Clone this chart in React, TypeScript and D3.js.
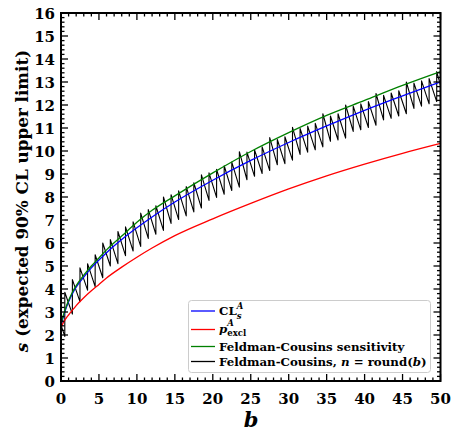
import React from "react";
import * as d3 from "d3";

const W = 452;
const H = 433;

// smooth curves sampled on a b grid
const bGrid = [0, 0.25, 0.5, 0.75, 1, 1.5, 2, 3, 4, 5, 6, 8, 10, 12, 15, 20, 25, 30, 35, 40, 45, 50];
const clsA = [2.3, 2.72, 3.0, 3.24, 3.45, 3.8, 4.08, 4.52, 4.92, 5.26, 5.58, 6.15, 6.66, 7.13, 7.78, 8.73, 9.59, 10.37, 11.09, 11.77, 12.4, 13.01];
const pExcl = [2.3, 2.5, 2.65, 2.77, 2.87, 3.08, 3.28, 3.62, 3.92, 4.2, 4.48, 4.95, 5.38, 5.78, 6.32, 7.05, 7.72, 8.35, 8.92, 9.43, 9.9, 10.33];
const fcSens = [2.44, 2.8, 3.05, 3.3, 3.5, 3.86, 4.15, 4.6, 5.0, 5.35, 5.7, 6.3, 6.9, 7.42, 8.05, 9.05, 9.98, 10.8, 11.55, 12.2, 12.85, 13.45];

// Feldman-Cousins with n = round(b): value at start (b = n-0.5) and end (b = n+0.5) of each tooth n = 0..50
const fcPeak = [2.44, 3.86, 4.41, 4.92, 5.1, 5.49, 6.0, 6.15, 6.5, 6.7, 6.92, 7.3, 7.45, 7.62, 8.0, 8.1, 8.27, 8.45, 8.62, 8.96, 9.05, 9.2, 9.36, 9.52, 9.97, 9.95, 10.05, 10.18, 10.58, 10.5, 10.62, 11.03, 10.98, 11.08, 11.2, 11.62, 11.52, 11.62, 12.0, 11.95, 12.05, 12.15, 12.5, 12.42, 12.52, 12.62, 13.0, 12.95, 13.05, 13.15, 13.45];
const fcTrough = [1.94, 2.91, 3.45, 3.95, 4.1, 4.49, 5.0, 5.1, 5.45, 5.65, 5.85, 6.2, 6.38, 6.55, 6.85, 7.02, 7.18, 7.35, 7.52, 7.85, 7.98, 8.12, 8.28, 8.43, 8.75, 8.9, 9.02, 9.15, 9.4, 9.45, 9.6, 9.85, 9.95, 10.05, 10.18, 10.42, 10.48, 10.56, 10.85, 10.92, 11.02, 11.12, 11.35, 11.42, 11.52, 11.62, 11.85, 11.95, 12.05, 12.15, 12.85];

const xTicks = [0, 5, 10, 15, 20, 25, 30, 35, 40, 45, 50];
const yTicks = [0, 1, 2, 3, 4, 5, 6, 7, 8, 9, 10, 11, 12, 13, 14, 15, 16];

const FONT = "'DejaVu Serif', serif";

export default function App() {
  const x = d3.scaleLinear().domain([0, 50]).range([61, 440.5]);
  const y = d3.scaleLinear().domain([0, 16]).range([381, 13]);
  const [x0, x1] = x.range();
  const [y0, y1] = y.range();

  const smooth = d3
    .line<[number, number]>()
    .x((d) => x(d[0]))
    .y((d) => y(d[1]))
    .curve(d3.curveMonotoneX);
  const straight = d3
    .line<[number, number]>()
    .x((d) => x(d[0]))
    .y((d) => y(d[1]));
  const pairs = (vals: number[]) => bGrid.map((b, i) => [b, vals[i]] as [number, number]);

  const saw: [number, number][] = [];
  fcPeak.forEach((p, k) => {
    const bs = k === 0 ? 0 : k - 0.5;
    const be = k === fcPeak.length - 1 ? 50 : k + 0.5;
    saw.push([bs, p]);
    saw.push([be, fcTrough[k]]);
  });

  const xMinor = d3.range(0, 51, 1).filter((v) => v % 5 !== 0);
  const yMinor = d3.range(0, 80, 1).filter((v) => v % 5 !== 0).map((v) => v / 5);

  const MAJ = 7;
  const MIN = 3.5;

  const legendRows = [
    { color: "#0000ff", y: 311 },
    { color: "#ff0000", y: 329.5 },
    { color: "#008000", y: 346.5 },
    { color: "#000000", y: 361.5 },
  ];

  return (
    <svg width={W} height={H} style={{ position: "absolute", left: 0, top: 0, background: "#fff" }} fontFamily={FONT}>
      <rect x={0} y={0} width={W} height={H} fill="#fff" />
      <g fill="none" strokeLinejoin="round">
        <path d={straight(saw) || ""} stroke="#000" strokeWidth={1.1} />
        <path d={smooth(pairs(clsA)) || ""} stroke="#0000ff" strokeWidth={1.3} />
        <path d={smooth(pairs(pExcl)) || ""} stroke="#ff0000" strokeWidth={1.3} />
        <path d={smooth(pairs(fcSens)) || ""} stroke="#008000" strokeWidth={1.3} />
      </g>

      {/* ticks */}
      <g stroke="#000" strokeWidth={1.3}>
        {xTicks.map((t) => (
          <g key={"xt" + t}>
            <line x1={x(t)} x2={x(t)} y1={y0} y2={y0 - MAJ} />
            <line x1={x(t)} x2={x(t)} y1={y1} y2={y1 + MAJ} />
          </g>
        ))}
        {xMinor.map((t) => (
          <g key={"xm" + t}>
            <line x1={x(t)} x2={x(t)} y1={y0} y2={y0 - MIN} />
            <line x1={x(t)} x2={x(t)} y1={y1} y2={y1 + MIN} />
          </g>
        ))}
        {yTicks.map((t) => (
          <g key={"yt" + t}>
            <line x1={x0} x2={x0 + MAJ} y1={y(t)} y2={y(t)} />
            <line x1={x1} x2={x1 - MAJ} y1={y(t)} y2={y(t)} />
          </g>
        ))}
        {yMinor.map((t) => (
          <g key={"ym" + t}>
            <line x1={x0} x2={x0 + MIN} y1={y(t)} y2={y(t)} />
            <line x1={x1} x2={x1 - MIN} y1={y(t)} y2={y(t)} />
          </g>
        ))}
      </g>
      <rect x={x0} y={y1} width={x1 - x0} height={y0 - y1} fill="none" stroke="#000" strokeWidth={2} />

      {/* tick labels */}
      <g fontSize={15} fontWeight="bold" fill="#000">
        {xTicks.map((t) => (
          <text key={"xl" + t} x={x(t)} y={403.5} textAnchor="middle">
            {t}
          </text>
        ))}
        {yTicks.map((t) => (
          <text key={"yl" + t} x={55} y={y(t) + 5.5} textAnchor="end">
            {t}
          </text>
        ))}
      </g>

      {/* axis labels */}
      <text x={251} y={427} textAnchor="middle" fontSize={21} fontWeight="bold" fontStyle="italic">
        b
      </text>
      <text transform="translate(28,201) rotate(-90)" textAnchor="middle" fontSize={16.8} fontWeight="bold">
        <tspan fontStyle="italic">s</tspan>
        <tspan> (expected 90% CL upper limit)</tspan>
      </text>

      {/* legend */}
      <rect x={188.5} y={300.5} width={242} height={72} rx={3} fill="#fff" fillOpacity={0.8} stroke="#cccccc" strokeWidth={1} />
      {legendRows.map((r, i) => (
        <line key={"lg" + i} x1={191} x2={215} y1={r.y} y2={r.y} stroke={r.color} strokeWidth={1.3} />
      ))}
      <g fontSize={11.8} fontWeight="bold" fill="#000">
        <text x={219} y={legendRows[0].y + 4}>
          CL
          <tspan dy={-6} fontSize={8.5} fontStyle="italic">A</tspan>
          <tspan dx={-6.5} dy={9.5} fontSize={8.5} fontStyle="italic">s</tspan>
        </text>
        <text x={219} y={legendRows[1].y + 3}>
          <tspan fontStyle="italic">p</tspan>
          <tspan dy={-7} fontSize={8.5} fontStyle="italic">A</tspan>
          <tspan dx={-6.5} dy={10.5} fontSize={8.5}>excl</tspan>
        </text>
        <text x={219} y={legendRows[2].y + 4}>Feldman-Cousins sensitivity</text>
        <text x={219} y={legendRows[3].y + 4}>
          Feldman-Cousins, <tspan fontStyle="italic">n</tspan> = round(<tspan fontStyle="italic">b</tspan>)
        </text>
      </g>
    </svg>
  );
}
